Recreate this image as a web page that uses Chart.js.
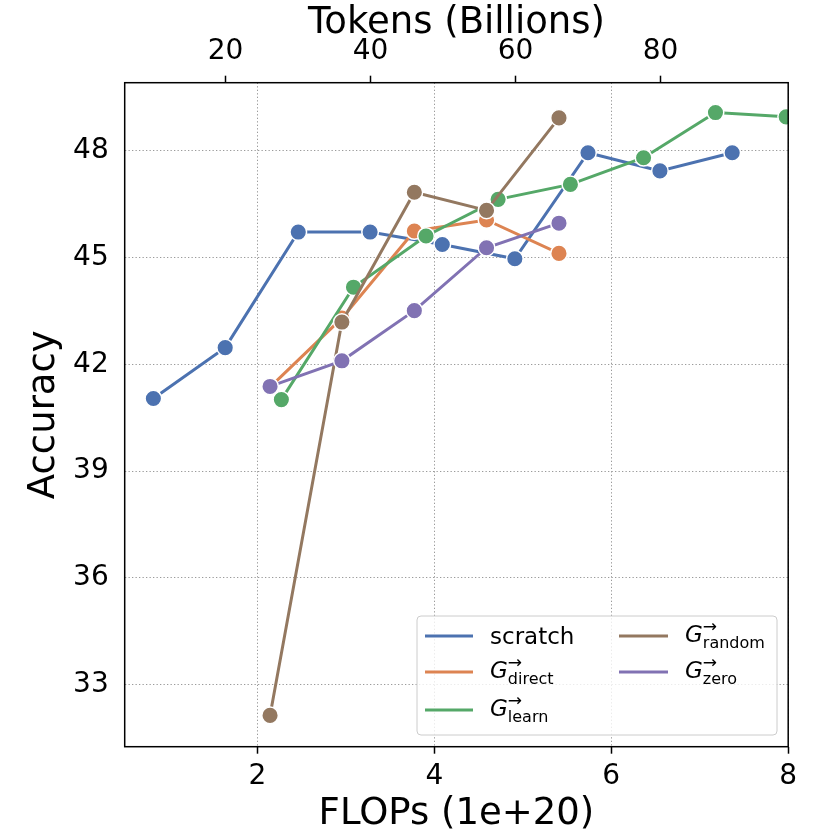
<!DOCTYPE html>
<html>
<head>
<meta charset="utf-8">
<script src="https://cdn.jsdelivr.net/npm/chart.js@4.4.0/dist/chart.umd.min.js"></script>
<style>
  html, body { margin: 0; padding: 0; background: #fff; }
</style>
</head>
<body>
<canvas id="myChart" width="830" height="830"></canvas>
<script>
// values (x in 1e+20 FLOPs, y accuracy)
var seriesNames = ['scratch', 'direct', 'learn', 'random', 'zero'];
var seriesColors = ['#4C72B0', '#DD8452', '#55A868', '#937860', '#8172B3'];

var flopsScratch = [0.824, 1.636, 2.462, 3.274, 4.090, 4.910, 5.737, 6.550, 7.367];
var accScratch = [41.04, 42.47, 45.72, 45.72, 45.37, 44.97, 47.95, 47.44, 47.95];

var flopsLearn = [2.271, 3.086, 3.906, 4.721, 5.538, 6.365, 7.178, 7.977];
var accLearn = [41.01, 44.17, 45.61, 46.64, 47.06, 47.81, 49.08, 48.96];

var flopsGrown = [2.143, 2.955, 3.774, 4.590, 5.409];
var accDirect = [41.36, 43.30, 45.75, 46.06, 45.12];
var accRandom = [32.13, 43.19, 46.84, 46.33, 48.93];
var accZero = [41.38, 42.10, 43.51, 45.28, 45.97];

var flopsTicks = [2, 4, 6, 8];
var tokenTicks = [20, 40, 60, 80];
var accTicks = [33, 36, 39, 42, 45, 48];
var tokensPerFlop = 12.2;

var FONT = 'DejaVu Sans';

function pts(xs, ys) {
  return xs.map(function (x, i) { return { x: x, y: ys[i] }; });
}

var seriesData = [
  pts(flopsScratch, accScratch),
  pts(flopsGrown, accDirect),
  pts(flopsLearn, accLearn),
  pts(flopsGrown, accRandom),
  pts(flopsGrown, accZero)
];

var datasets = seriesData.map(function (d, i) {
  return {
    label: seriesNames[i],
    data: d,
    order: seriesNames.length - i,
    borderColor: seriesColors[i],
    backgroundColor: seriesColors[i],
    borderWidth: 3,
    pointRadius: 8.3,
    pointHoverRadius: 8.3,
    pointBorderColor: '#ffffff',
    pointBorderWidth: 1.5,
    pointBackgroundColor: seriesColors[i],
    tension: 0
  };
});

function setTicks(list) {
  return function (scale) {
    scale.ticks = list.map(function (v) { return { value: v }; });
  };
}

// axes frame, drawn over the lines like matplotlib spines
var framePlugin = {
  id: 'frame',
  afterDatasetsDraw: function (chart) {
    var a = chart.chartArea, ctx = chart.ctx;
    ctx.save();
    ctx.strokeStyle = '#000';
    ctx.lineWidth = 1.5;
    ctx.strokeRect(a.left, a.top, a.right - a.left, a.bottom - a.top);
    ctx.restore();
  }
};

// legend with G^{->}_{sub} labels, two columns
var legendPlugin = {
  id: 'mathLegend',
  afterDraw: function (chart) {
    var ctx = chart.ctx;
    var bx = 417, by = 616, bw = 360, bh = 119, r = 4;
    ctx.save();
    ctx.beginPath();
    ctx.moveTo(bx + r, by);
    ctx.arcTo(bx + bw, by, bx + bw, by + bh, r);
    ctx.arcTo(bx + bw, by + bh, bx, by + bh, r);
    ctx.arcTo(bx, by + bh, bx, by, r);
    ctx.arcTo(bx, by, bx + bw, by, r);
    ctx.closePath();
    ctx.fillStyle = 'rgba(255,255,255,0.8)';
    ctx.fill();
    ctx.strokeStyle = '#cccccc';
    ctx.lineWidth = 1;
    ctx.stroke();

    var colHandle = [[425, 473], [619, 668]];
    var colText = [490, 685];
    var rowY = [636, 672, 710];
    ctx.textAlign = 'left';
    seriesNames.forEach(function (name, i) {
      var col = i < 3 ? 0 : 1;
      var row = i < 3 ? i : i - 3;
      var y = rowY[row];
      ctx.strokeStyle = seriesColors[i];
      ctx.lineWidth = 3;
      ctx.beginPath();
      ctx.moveTo(colHandle[col][0], y);
      ctx.lineTo(colHandle[col][1], y);
      ctx.stroke();

      ctx.fillStyle = '#000';
      var tx = colText[col];
      if (i === 0) {
        ctx.font = '23px "' + FONT + '"';
        ctx.textBaseline = 'alphabetic';
        ctx.fillText(name, tx, y + 8);
      } else {
        ctx.font = 'italic 23px "' + FONT + '"';
        ctx.textBaseline = 'alphabetic';
        ctx.fillText('G', tx, y + 6);
        var gw = ctx.measureText('G').width;
        ctx.font = '16px "' + FONT + '"';
        ctx.fillText(name, tx + gw, y + 12);
        ctx.font = '17px "' + FONT + '"';
        ctx.textBaseline = 'middle';
        ctx.fillText('\u2192', tx + gw, y - 8);
      }
    });
    ctx.restore();
  }
};

var tickFont = { family: FONT, size: 28 };
var titleFont = { family: FONT, size: 37, lineHeight: 0.8 };
var gridColor = '#9a9a9a';
var dots = [1.3, 2.2];

var config = {
  type: 'line',
  data: { datasets: datasets },
  options: {
    responsive: false,
    animation: false,
    events: [],
    layout: { padding: { left: 0, right: 41.8, top: 0, bottom: 0 } },
    plugins: {
      legend: { display: false },
      tooltip: { enabled: false }
    },
    scales: {
      x: {
        type: 'linear',
        position: 'bottom',
        min: 0.5,
        max: 8,
        afterBuildTicks: setTicks(flopsTicks),
        afterFit: function (s) { s.height = 83.3; },
        ticks: { font: tickFont, color: '#000', padding: 6, maxRotation: 0, autoSkip: false },
        grid: { color: gridColor, lineWidth: 1, tickLength: 7, tickColor: '#000', tickWidth: 1.5 },
        border: { display: false, dash: dots },
        title: { display: true, text: 'FLOPs (1e+20)', color: '#000', font: titleFont, padding: { top: 0, bottom: 1 } }
      },
      x2: {
        type: 'linear',
        position: 'top',
        min: 0.5 * tokensPerFlop,
        max: 8 * tokensPerFlop,
        afterBuildTicks: setTicks(tokenTicks),
        afterFit: function (s) { s.height = 82.7; },
        ticks: { font: tickFont, color: '#000', padding: 7, maxRotation: 0, autoSkip: false },
        grid: { drawOnChartArea: false, tickLength: 7, tickColor: '#000', tickWidth: 1.5 },
        border: { display: false },
        title: { display: true, text: 'Tokens (Billions)', color: '#000', font: titleFont, padding: { top: 9, bottom: 0 } }
      },
      y: {
        type: 'linear',
        position: 'left',
        min: 31.25,
        max: 49.92,
        afterBuildTicks: setTicks(accTicks),
        afterFit: function (s) { s.width = 124.7; },
        ticks: { font: tickFont, color: '#000', padding: 16 },
        grid: { color: gridColor, lineWidth: 1, drawTicks: false },
        border: { display: false, dash: dots },
        title: { display: true, text: 'Accuracy', color: '#000', font: titleFont, padding: { top: 30, bottom: 0 } }
      }
    }
  },
  plugins: [framePlugin, legendPlugin]
};

var myChart = new Chart(document.getElementById('myChart'), config);
</script>
</body>
</html>
